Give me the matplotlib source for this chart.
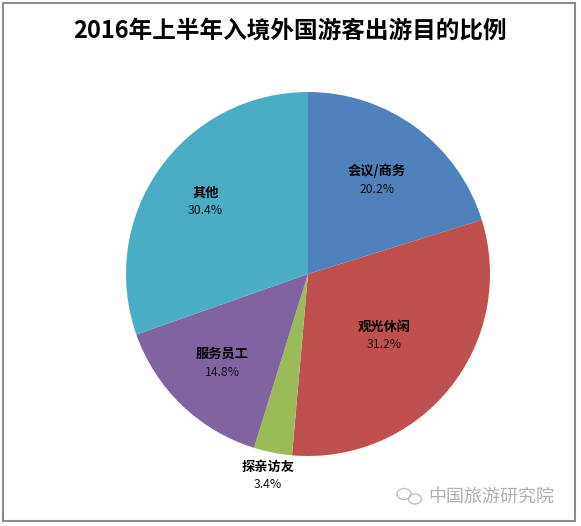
import numpy as np
import matplotlib.pyplot as plt
from matplotlib.patches import Rectangle, Ellipse

plt.rcParams['font.family'] = ['Noto Sans CJK SC', 'DejaVu Sans']

title = '2016年上半年入境外国游客出游目的比例'
purposes = ['会议/商务', '观光休闲', '探亲访友', '服务员工', '其他']
shares = [20.2, 31.2, 3.4, 14.8, 30.4]
colors = ['#4F81BD', '#C0504D', '#9BBB59', '#8064A2', '#4BACC6']
# how far out each data label sits, as fraction of radius
label_dist = [0.64, 0.54, 1.13, 0.68, 0.69]

W, H = 581, 526
fig = plt.figure(figsize=(W / 100, H / 100), dpi=100)
ax = fig.add_axes([0, 0, 1, 1])

cx, cy, r = 308, H - 274, 182
wedges, _ = ax.pie(shares, colors=colors, startangle=90, counterclock=False,
                   center=(cx, cy), radius=r, frame=True,
                   wedgeprops=dict(linewidth=0))
ax.set_xlim(0, W)
ax.set_ylim(0, H)
ax.set_aspect('equal')
ax.axis('off')

for w, name, val, d in zip(wedges, purposes, shares, label_dist):
    ang = np.deg2rad((w.theta1 + w.theta2) / 2)
    x = cx + d * r * np.cos(ang)
    y = cy + d * r * np.sin(ang)
    ax.text(x, y + 9, name, ha='center', va='center', fontsize=9.5,
            fontweight='bold', color='black')
    ax.text(x, y - 9, f'{val:.1f}%', ha='center', va='center', fontsize=8.8,
            fontweight='medium', color='#111111')

# title
ax.text(290, H - 31, title, ha='center', va='center', fontsize=17,
        fontweight='bold', color='black')

# outer frame
ax.add_patch(Rectangle((3, H - 521), 572, 518, fill=False,
                       edgecolor='#8c8c8c', linewidth=1.5, clip_on=False))

# watermark
ax.text(428, H - 497, '中国旅游研究院', ha='left', va='center', fontsize=13,
        color='#b0b0b0')
ax.add_patch(Ellipse((404, H - 494), 14, 11, fill=False, edgecolor='#c0c0c0', lw=1))
ax.add_patch(Ellipse((415, H - 499), 13, 10, fill=False, edgecolor='#c0c0c0', lw=1))

fig.savefig('out.png', dpi=100, facecolor='white')
